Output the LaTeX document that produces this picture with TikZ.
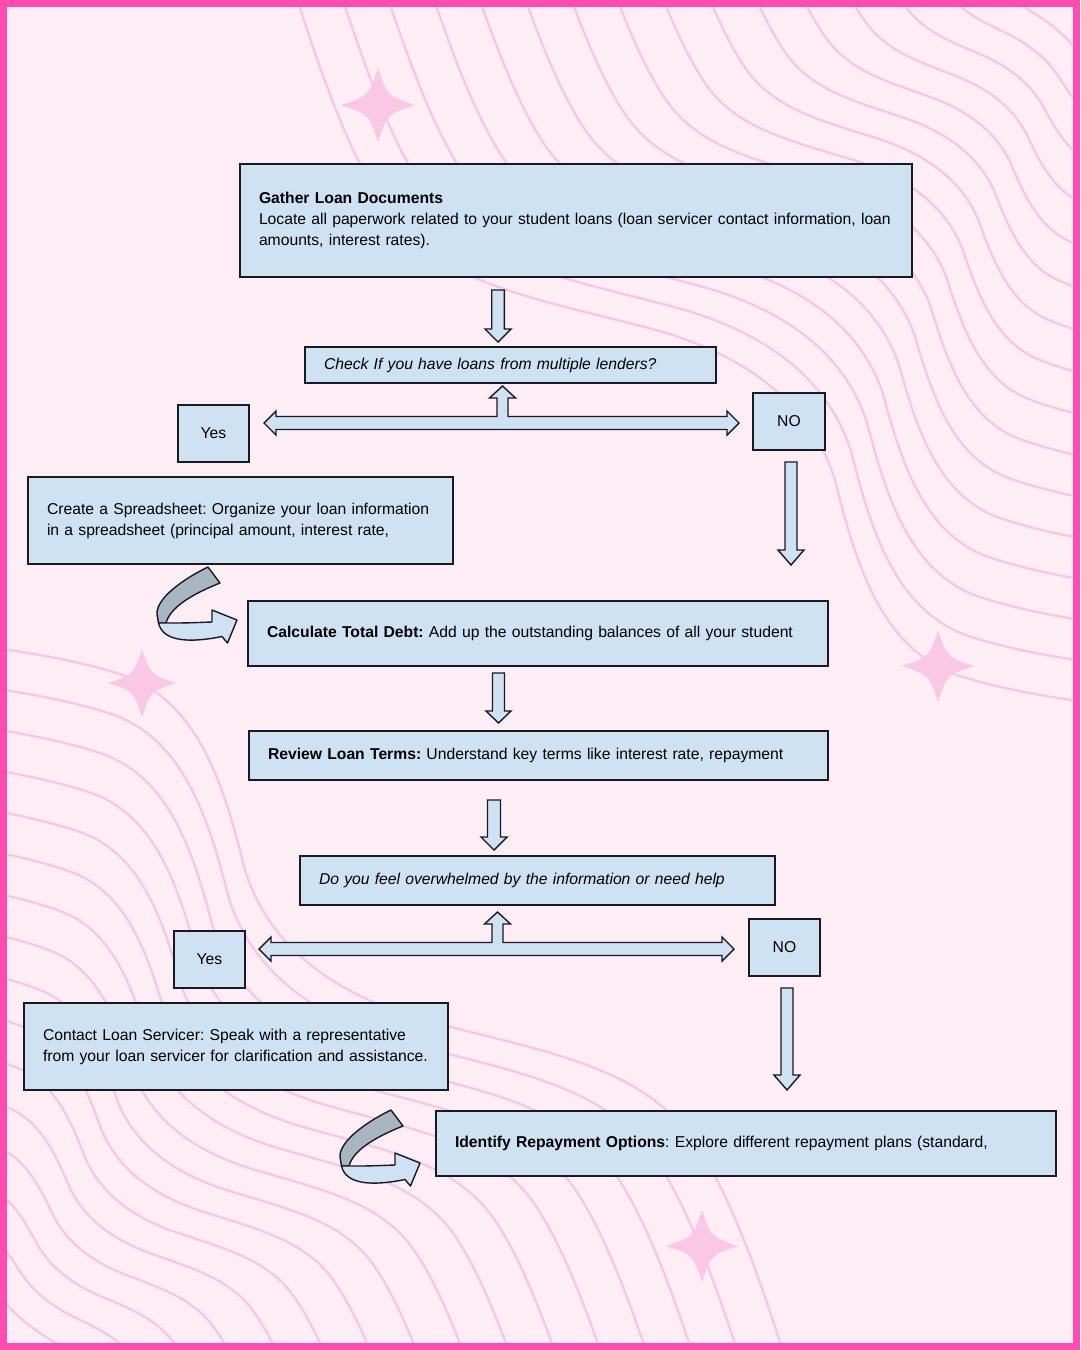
\documentclass[tikz,border=0pt]{standalone}
\usepackage{fontspec}
\setmainfont{Liberation Sans}
\frenchspacing
\definecolor{bgpink}{RGB}{253,237,245}
\definecolor{framepink}{RGB}{255,77,175}
\definecolor{wavepink}{RGB}{248,198,224}
\definecolor{sparkpink}{RGB}{250,200,228}
\definecolor{boxblue}{RGB}{207,226,243}
\definecolor{bandgray}{RGB}{168,182,194}
\definecolor{boxline}{RGB}{25,25,30}
\newcommand{\ipt}[5]{\coordinate (#1) at ({(1-\s)*#2+\s*#4},{(1-\s)*#3+\s*#5});}
\newcommand{\wavefamily}{%
  \foreach \k in {0,...,15}{%
    \pgfmathsetmacro{\s}{\k/16}%
    \ipt{w0}{270}{-80}{1000}{-60}%
    \ipt{w1}{300}{0}{1010}{-51.3}%
    \ipt{w2}{330}{120}{1020}{-42.7}%
    \ipt{w3}{380}{200}{1030}{-34}%
    \ipt{w4}{430}{280}{1040}{-25.3}%
    \ipt{w5}{520}{295}{1050}{-16.7}%
    \ipt{w6}{637}{325}{1060}{-8}%
    \ipt{w7}{740}{350}{1070}{0.7}%
    \ipt{w8}{810}{400}{1080}{9.3}%
    \ipt{w9}{835}{480}{1090}{18}%
    \ipt{w10}{855}{560}{1100}{26.7}%
    \ipt{w11}{880}{650}{1110}{35.3}%
    \ipt{w12}{960}{676}{1120}{44}%
    \ipt{w13}{1020}{695}{1130}{52.7}%
    \ipt{w14}{1100}{705}{1140}{61.3}%
    \ipt{w15}{1170}{712}{1150}{70}%
    \draw[wave] (w0) .. controls (w1) and (w2) .. (w3) .. controls (w4) and (w5) .. (w6)
      .. controls (w7) and (w8) .. (w9) .. controls (w10) and (w11) .. (w12)
      .. controls (w13) and (w14) .. (w15);
  }}
\newcommand{\sparkle}[3]{%
  \fill[sparkpink] ({#1},{#2-#3}) .. controls ({#1+0.25*#3},{#2-0.25*#3}) .. ({#1+#3},{#2})
    .. controls ({#1+0.25*#3},{#2+0.25*#3}) .. ({#1},{#2+#3})
    .. controls ({#1-0.25*#3},{#2+0.25*#3}) .. ({#1-#3},{#2})
    .. controls ({#1-0.25*#3},{#2-0.25*#3}) .. ({#1},{#2-#3}) -- cycle;}
\newcommand{\downblock}[6]{%
  \draw[barrow] ({#1-#4},#2) -- ({#1+#4},#2) -- ({#1+#4},{#3-#6}) -- ({#1+#5},{#3-#6})
    -- (#1,#3) -- ({#1-#5},{#3-#6}) -- ({#1-#4},{#3-#6}) -- cycle;}
\newcommand{\teearrow}{%
  \draw[barrow] (264,423) -- (276,411) -- (276,416.5) -- (497,416.5) -- (497,398) -- (489.5,398)
    -- (502.5,386) -- (515.5,398) -- (508,398) -- (508,416.5) -- (727,416.5) -- (727,411)
    -- (739,423) -- (727,435) -- (727,429.5) -- (276,429.5) -- (276,435) -- cycle;}
\newcommand{\uturn}{%
  \draw[bandarrow, fill=bandgray] (208,567) .. controls (185,578) and (156,598) .. (157,614)
    .. controls (157.5,619) .. (158.5,623) -- (166,623) .. controls (170,608) and (190,595) .. (220,583) -- cycle;
  \draw[bandarrow, fill=boxblue] (158.5,623) -- (166,623) .. controls (185,623) .. (212,622)
    -- (212,610) -- (237,620) -- (227.5,643) -- (222,636.5)
    .. controls (190,643) and (163,642) .. (158.5,623) -- cycle;}
\tikzset{
  wave/.style={draw=wavepink, line width=2.2pt},
  barrow/.style={draw=boxline, line width=1.4pt, fill=boxblue, line join=miter},
  bandarrow/.style={draw=boxline, line width=1.4pt, line join=round},
  box/.style={draw=boxline, line width=1.8pt, fill=boxblue, inner xsep=19pt, inner ysep=0pt,
    align=left, text=black, font=\fontsize{15.7}{21}\selectfont},
  smallbox/.style={draw=boxline, line width=1.8pt, fill=boxblue, inner sep=0pt,
    minimum width=71pt, minimum height=57pt, align=center, text=black,
    font=\fontsize{15.7}{21}\selectfont}
}
\begin{document}
\begin{tikzpicture}[x=1pt,y=-1pt]
\useasboundingbox (0,0) rectangle (1080,1350);
\fill[bgpink] (0,0) rectangle (1080,1350);
\begin{scope}
  \clip (7,7) rectangle (1073,1343);
  \wavefamily
  \begin{scope}[rotate around={180:(540,675)}]
    \wavefamily
  \end{scope}
  \sparkle{378}{105}{37}
  \sparkle{142}{683}{34}
  \sparkle{938}{666}{36}
  \sparkle{702}{1246}{36}
\end{scope}
\draw[framepink, line width=7pt] (3.5,3.5) rectangle (1076.5,1346.5);

% boxes
\node[box, text width=634pt, minimum height=113pt] (gather) at (576,220.5)
  {\textbf{Gather Loan Documents}\\\mbox{Locate all paperwork related to your student loans (loan servicer contact information, loan}\\amounts, interest rates).};
\node[box, text width=373pt, minimum height=36pt] (check) at (510.5,365)
  {\itshape Check If you have loans from multiple lenders?};
\node[smallbox] (yes1) at (213.5,433.5) {Yes};
\node[smallbox, minimum width=72pt] (no1) at (789,421.5) {NO};
\node[box, text width=387pt, minimum height=87pt] (sheet) at (240.5,520.5)
  {\mbox{Create a Spreadsheet: Organize your loan information}\\\mbox{in a spreadsheet (principal amount, interest rate,}};
\node[box, text width=542pt, minimum height=65pt] (total) at (538,633.5)
  {\textbf{Calculate Total Debt:} Add up the outstanding balances of all your student};
\node[box, text width=541pt, minimum height=49pt] (terms) at (538.5,755.5)
  {\textbf{Review Loan Terms:} Understand key terms like interest rate, repayment};
\node[box, text width=437pt, minimum height=49pt] (help) at (537.5,880.5)
  {\itshape Do you feel overwhelmed by the information or need help};
\node[smallbox] (yes2) at (209.5,959.5) {Yes};
\node[smallbox] (no2) at (784.5,947.5) {NO};
\node[box, text width=386pt, minimum height=87pt] (contact) at (236,1046.5)
  {\mbox{Contact Loan Servicer: Speak with a representative}\\\mbox{from your loan servicer for clarification and assistance.}};
\node[box, text width=582pt, minimum height=65pt] (repay) at (746,1143.5)
  {\textbf{Identify Repayment Options}: Explore different repayment plans (standard,};

% block arrows
\downblock{498}{290}{342}{6.3}{13}{13}
\teearrow
\downblock{791}{462}{565}{6}{13}{15}
\uturn
\downblock{498.5}{673}{723}{6}{12.5}{12}
\downblock{494}{800}{850}{6.5}{13}{13}
\begin{scope}[shift={(-5,526)}]
  \teearrow
\end{scope}
\downblock{787}{988}{1090}{6}{13}{15}
\begin{scope}[shift={(183,543)}]
  \uturn
\end{scope}
\end{tikzpicture}
\end{document}
